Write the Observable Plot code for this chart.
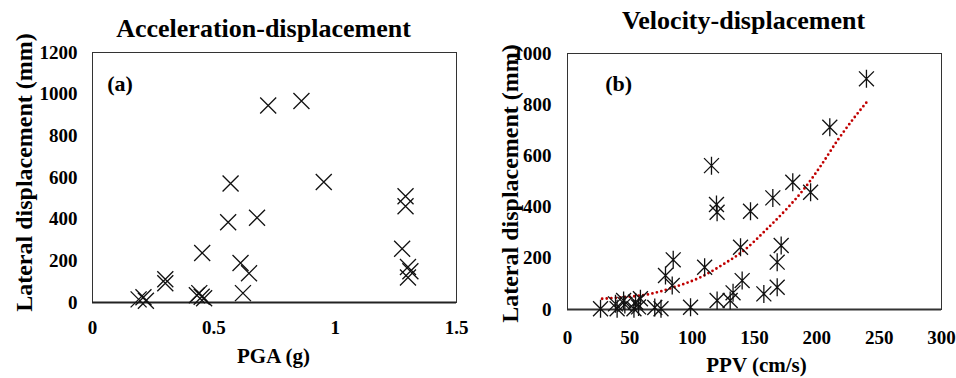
<!DOCTYPE html>
<html><head><meta charset="utf-8">
<script src="https://cdn.jsdelivr.net/npm/d3@7"></script>
<script src="https://cdn.jsdelivr.net/npm/@observablehq/plot@0.6"></script>
<style>
html,body{margin:0;padding:0;background:#fff;}
#wrap{display:flex;width:956px;height:378px;overflow:hidden;}
#wrap svg{flex:none;}
</style></head><body><div id="wrap"></div>
<script>
// ---- Data ----
const pgaTicks = [0, 0.5, 1, 1.5];
const dispTicksA = [0, 200, 400, 600, 800, 1000, 1200];
const ppvTicks = [0, 50, 100, 150, 200, 250, 300];
const dispTicksB = [0, 200, 400, 600, 800, 1000];

const pga = [0.19, 0.21, 0.22, 0.30, 0.30, 0.43, 0.44, 0.45, 0.46, 0.452, 0.559, 0.569, 0.61, 0.62, 0.645, 0.678, 0.724, 0.861, 0.953, 1.276, 1.29, 1.29, 1.30, 1.31, 1.30];
const pgaDisp = [15, 25, 8, 112, 92, 35, 45, 28, 20, 238, 385, 571, 190, 45, 140, 407, 946, 967, 578, 258, 510, 462, 170, 150, 120];

const ppv = [26.5, 38.5, 39.8, 45, 46, 53.3, 54.6, 57, 58.5, 70, 75, 98.7, 78.6, 84.8, 84, 110, 115.5, 119.5, 120, 120, 130.5, 132.8, 138.8, 140.1, 146.8, 157.5, 164.7, 168.2, 168.2, 171.4, 180.7, 195, 210.4, 239.8];
const ppvDisp = [3, 22, 3, 35, 20, 3, 29, 10, 42, 8, 3, 9, 133, 194, 94, 165, 562, 410, 380, 35, 35, 65, 243, 113, 384, 61, 436, 87, 185, 250, 497, 458, 712, 901];

const trendPPV = [27.8, 45.2, 66.6, 85.3, 106.7, 125.4, 141.4, 160.1, 176.2, 189.6, 203, 216.5, 229.8, 240];
const trendDisp = [42, 48, 61, 87, 126, 178, 230, 315, 395, 470, 560, 660, 748, 810];

const titleA = "Acceleration-displacement";
const titleB = "Velocity-displacement";
const xLabelA = "PGA (g)";
const xLabelB = "PPV (cm/s)";
const yLabel = "Lateral displacement (mm)";

// ---- Tables ----
const dataA = pga.map((x, i) => ({x, y: pgaDisp[i]}));
const dataB = ppv.map((x, i) => ({x, y: ppvDisp[i]}));
const trend = trendPPV.map((x, i) => ({x, y: trendDisp[i]}));

const FONT = "'Liberation Serif','Times New Roman',serif";

const timesSym = {draw(ctx, size) {
  const r = Math.sqrt(size / Math.PI);
  ctx.moveTo(-r, -r); ctx.lineTo(r, r);
  ctx.moveTo(-r, r); ctx.lineTo(r, -r);
}};
const starSym = {draw(ctx, size) {
  const r = Math.sqrt(size / Math.PI);
  const h = r * 0.83;
  ctx.moveTo(-h, -h); ctx.lineTo(h, h);
  ctx.moveTo(-h, h); ctx.lineTo(h, -h);
  ctx.moveTo(0, -r); ctx.lineTo(0, r);
}};

const fmt = d => String(d);
const style = {fontFamily: FONT, fontSize: "19px", fontWeight: "bold", color: "#000", background: "#fff", overflow: "visible"};

const plotA = Plot.plot({
  width: 478, height: 378,
  marginLeft: 92, marginRight: 22, marginTop: 52, marginBottom: 76,
  style,
  x: {domain: [0, 1.5], ticks: pgaTicks, tickSize: 0, tickPadding: 17.5, label: null, tickFormat: fmt},
  y: {domain: [0, 1200], ticks: dispTicksA, tickSize: 0, tickPadding: 15, label: null, tickFormat: fmt},
  marks: [
    Plot.frame({stroke: "#333", strokeWidth: 1}),
    Plot.ruleY([0], {stroke: "#222", strokeWidth: 2}),
    Plot.dot(dataA, {x: "x", y: "y", symbol: timesSym, r: 8, fill: "none", stroke: "#111", strokeWidth: 1.3}),
    Plot.text([titleA], {text: d => d, frameAnchor: "top", textAnchor: "middle", dx: -11, dy: -16, lineAnchor: "bottom", fontSize: 26}),
    Plot.text(["(a)"], {text: d => d, frameAnchor: "top-left", textAnchor: "start", dx: 14.7, dy: 38.7, lineAnchor: "bottom", fontSize: 22}),
    Plot.text([xLabelA], {text: d => d, frameAnchor: "bottom", textAnchor: "middle", dx: -1, dy: 60, lineAnchor: "bottom", fontSize: 21}),
    Plot.text([yLabel], {text: d => d, frameAnchor: "left", textAnchor: "middle", rotate: -90, dx: -60.3, dy: -5, lineAnchor: "bottom", fontSize: 24})
  ]
});

const plotB = Plot.plot({
  width: 478, height: 378,
  marginLeft: 89, marginRight: 15, marginTop: 53, marginBottom: 69,
  style,
  x: {domain: [0, 300], ticks: ppvTicks, tickSize: 0, tickPadding: 20.5, label: null, tickFormat: fmt},
  y: {domain: [0, 1000], ticks: dispTicksB, tickSize: 0, tickPadding: 16, label: null, tickFormat: fmt},
  marks: [
    Plot.frame({stroke: "#333", strokeWidth: 1}),
    Plot.ruleY([0], {stroke: "#333", strokeWidth: 2}),
    Plot.line(trend, {x: "x", y: "y", curve: "monotone-x", stroke: "#c00000", strokeWidth: 2.8, strokeDasharray: "0 4.6", strokeLinecap: "round"}),
    Plot.dot(dataB, {x: "x", y: "y", symbol: starSym, r: 9, fill: "none", stroke: "#111", strokeWidth: 1.3}),
    Plot.text([titleB], {text: d => d, frameAnchor: "top", textAnchor: "middle", dx: -11, dy: -25, lineAnchor: "bottom", fontSize: 26}),
    Plot.text(["(b)"], {text: d => d, frameAnchor: "top-left", textAnchor: "start", dx: 37.7, dy: 37.7, lineAnchor: "bottom", fontSize: 22}),
    Plot.text([xLabelB], {text: d => d, frameAnchor: "bottom", textAnchor: "middle", dx: 2, dy: 62.7, lineAnchor: "bottom", fontSize: 21}),
    Plot.text([yLabel], {text: d => d, frameAnchor: "left", textAnchor: "middle", rotate: -90, dx: -50, dy: 2, lineAnchor: "bottom", fontSize: 24})
  ]
});

const wrap = document.getElementById("wrap");
wrap.appendChild(plotA);
wrap.appendChild(plotB);
</script>
</body></html>
